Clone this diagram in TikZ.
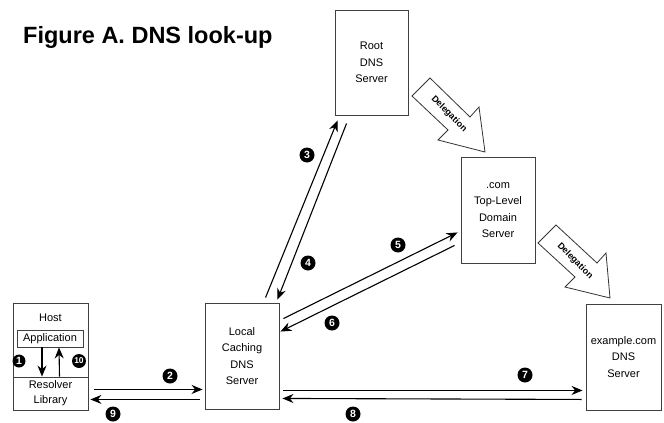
\documentclass[tikz,border=0pt]{standalone}
\usepackage{fontspec}
\setmainfont{Liberation Sans}
\usetikzlibrary{arrows.meta}
\begin{document}
\begin{tikzpicture}[x=1pt,y=-1pt,
  box/.style={draw=black!75, line width=0.9pt, inner sep=0pt, align=center,
    font=\fontsize{11}{16.5}\selectfont},
  plain/.style={inner sep=0pt, align=center, font=\fontsize{11}{16.5}\selectfont},
  flow/.style={-{Stealth[length=11pt,width=9pt]}, line width=1.1pt},
  num/.style={circle, fill=black, text=white, inner sep=0pt, minimum size=15pt,
    font=\bfseries\fontsize{10.5}{10.5}\selectfont},
  deleg/.style={draw=black!80, line width=0.8pt, fill=white, line join=miter},
  delegtext/.style={inner sep=0pt, rotate=-45, font=\bfseries\fontsize{9}{9}\selectfont},
]
\useasboundingbox (0,0) rectangle (664,423);

% title
\node[anchor=base west, inner sep=0pt, font=\bfseries\fontsize{23.5}{23.5}\selectfont] (title) at (23,43) {Figure A. DNS look-up};

% servers
\node[box, minimum width=73pt, minimum height=105pt] (root) at (371.5,62.5) {Root\\DNS\\Server};
\node[box, minimum width=74pt, minimum height=106pt] (com) at (498,210) {.com\\Top-Level\\Domain\\Server};
\node[box, minimum width=75pt, minimum height=106pt] (example) at (623.5,357) {example.com\\DNS\\Server};
\node[box, minimum width=74pt, minimum height=106pt] (local) at (242,356) {Local\\Caching\\DNS\\Server};

% host
\node[box, minimum width=75pt, minimum height=107pt] (host) at (50.5,356.5) {};
\node[plain] (hostlabel) at (50.5,318) {Host};
\node[box, minimum width=66pt, minimum height=17pt] (app) at (50,338.5) {Application};
\node[box, minimum width=75pt, minimum height=33pt, font=\fontsize{11}{15}\selectfont] (resolver) at (50.5,393.5) {Resolver\\Library};

\draw[flow] ([xshift=-8pt]app.south) -- ([xshift=-8.5pt]resolver.north);
\draw[flow] ([xshift=9pt]resolver.north) -- ([xshift=9pt]app.south);
\node[num, minimum size=13pt] (n1) at (19,361) {1};
\node[num, minimum size=14pt, font=\bfseries\fontsize{8.5}{8.5}\selectfont] (n10) at (79,361) {10};

% delegation arrows
\draw[deleg] (412,96) -- (430,78) -- (470,117) -- (479,107) -- (485,152) -- (438,140) -- (448,130) -- cycle;
\node[delegtext] (d1) at (449,114) {Delegation};
\draw[deleg] (538,243) -- (556,225) -- (597,263) -- (606,253) -- (610,298) -- (565,287) -- (575,277) -- cycle;
\node[delegtext] (d2) at (575,261) {Delegation};

% flows
\draw[flow] ([xshift=6pt,yshift=21pt]host.south east) -- ([xshift=-2pt,yshift=20pt]local.south west);
\draw[flow] ([xshift=-5pt,yshift=10pt]local.south west) -- ([xshift=2pt,yshift=11pt]host.south east);
\draw[flow] ([xshift=61pt,yshift=5pt]local.north west) -- ([xshift=3pt,yshift=-5pt]root.south west);
\draw[flow] ([xshift=12pt,yshift=-8pt]root.south west) -- ([xshift=-2pt,yshift=3pt]local.north east);
\draw[flow] ([xshift=4pt,yshift=-16pt]local.north east) -- ([xshift=-3pt,yshift=31pt]com.south west);
\draw[flow] ([xshift=-6pt,yshift=18pt]com.south west) -- ([xshift=1pt,yshift=-29pt]local.north east);
\draw[flow] ([xshift=4pt,yshift=19pt]local.south east) -- ([xshift=-3pt,yshift=20pt]example.south west);
\draw[flow] ([xshift=-4pt,yshift=11pt]example.south west) -- ([xshift=3pt,yshift=11pt]local.south east);

% step numbers
\node[num] (n2) at (170,376) {2};
\node[num] (n9) at (113,414) {9};
\node[num] (n3) at (307,155) {3};
\node[num] (n4) at (308,263) {4};
\node[num] (n5) at (398,245) {5};
\node[num] (n6) at (332,323) {6};
\node[num] (n7) at (525,375) {7};
\node[num] (n8) at (353,414) {8};
\end{tikzpicture}
\end{document}
